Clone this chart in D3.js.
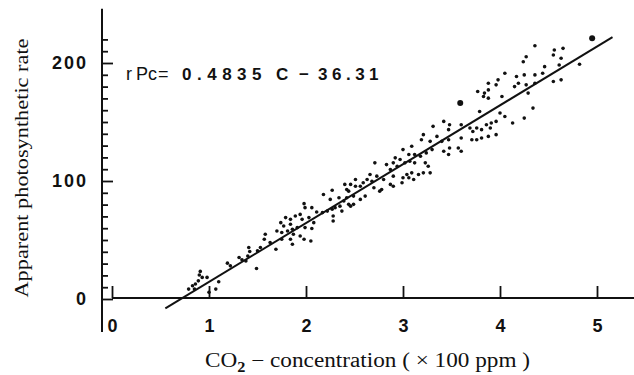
<!DOCTYPE html>
<meta charset="utf-8">
<style>
body { margin: 0; background: #fff; }
svg text { fill: #111; }
</style>
<body>
<script src="https://d3js.org/d3.v7.min.js"></script>
<script>

var width = 634,
    height = 375;

// scatter points (CO2 in 100 ppm, rate)
var co2 = [1.41,1.42,1.40,1.31,1.34,1.38,1.19,1.22,1.49,0.91,0.90,0.93,0.98,0.89,0.86,0.83,0.79,0.85,1.10,1.07,1.00,
  2.40,2.42,2.27,2.18,2.25,2.34,2.39,2.42,1.98,1.99,2.06,2.11,2.17,2.22,2.27,2.30,2.35,2.28,2.28,2.37,2.44,1.79,1.84,1.89,1.94,1.96,2.03,2.08,1.74,1.77,1.84,1.70,1.75,1.81,1.86,1.91,1.99,2.06,1.87,1.94,1.98,1.84,1.58,1.57,1.63,1.53,1.50,1.69,2.05,1.86,1.75,
  3.31,3.21,3.19,3.28,3.30,3.24,3.09,3.00,3.06,3.12,3.18,2.92,2.97,2.90,2.83,2.87,2.94,3.02,3.07,3.12,3.23,3.26,3.28,3.21,3.16,3.09,3.04,3.00,2.99,3.06,3.11,2.90,2.87,2.90,2.80,2.73,2.71,2.66,2.68,2.63,2.59,2.56,2.51,2.51,2.46,2.44,2.49,2.56,2.61,2.76,2.78,2.49,2.46,2.70,
  4.05,4.17,4.25,3.98,3.88,3.96,4.19,4.15,3.88,3.84,3.83,3.88,4.02,3.77,3.79,4.00,4.05,3.96,3.91,3.86,3.90,3.81,3.76,3.72,3.69,3.60,3.48,3.42,3.47,3.35,3.40,3.47,3.60,3.71,3.76,3.81,3.88,3.96,4.13,4.25,3.48,3.42,3.57,3.60,3.47,
  4.36,4.27,4.24,4.56,4.65,4.55,4.63,4.46,4.61,4.44,4.36,4.82,4.27,4.36,4.29,4.55,4.63,4.34];

var rate = [43.6,40.3,36.5,35.2,33.2,32.3,30.4,28.1,25.9,23.4,20.3,18.3,18.3,15.4,12.7,11.2,8.4,8.4,14.6,8.4,5.7,
  97.1,92.8,92.2,88.6,84.4,85.8,83.0,85.8,80.8,77.4,77.4,73.7,73.2,74.5,76.0,77.4,78.7,70.3,66.1,74.5,80.2,69.0,67.5,70.3,71.7,67.5,69.0,64.7,64.7,61.9,63.3,57.6,56.3,57.6,59.1,60.5,60.5,59.7,54.9,53.4,50.6,50.6,54.9,50.6,47.9,43.6,40.8,42.2,49.2,46.4,50.6,
  146.3,139.3,135.0,133.6,126.6,123.8,129.4,126.6,122.4,122.4,121.0,119.6,118.2,115.4,113.9,109.7,112.5,115.4,116.7,115.4,115.4,112.5,106.9,106.9,105.5,106.9,105.5,102.7,98.5,102.7,101.3,104.1,97.1,95.6,101.3,104.1,115.4,105.5,99.8,101.3,98.5,95.6,101.3,95.6,97.1,91.4,87.2,84.4,87.2,91.4,92.8,80.2,78.7,94.3,
  191.3,188.5,189.9,185.7,182.9,181.5,182.9,180.0,177.2,174.5,171.6,170.2,171.6,175.8,158.9,157.6,154.7,150.5,149.1,147.7,144.9,143.5,144.9,142.0,144.9,147.7,147.7,150.5,143.5,137.8,133.6,135.0,136.5,135.0,135.0,136.5,137.8,139.3,149.1,153.3,128.0,125.2,128.0,125.2,122.4,
  214.6,205.3,201.1,211.0,212.4,206.8,204.0,196.9,198.3,191.3,189.9,198.9,181.5,182.9,174.5,184.3,185.7,161.8];

// the two heavier dots
var bigCo2 = [3.59, 4.95];
var bigRate = [166, 221];

// fitted line end points as drawn
var fitCo2 = [0.55, 5.16];
var fitRate = [-8, 222];

var xTicks = [0, 1, 2, 3, 4, 5];
var yMajor = [0, 100, 200];
var yMinor = [10, 20, 30, 40, 50, 60, 70, 80, 90, 110, 120, 130, 140, 150, 160, 170, 180, 190, 210, 220];

var svg = d3.select("body").append("svg")
    .attr("width", width)
    .attr("height", height);

var x = d3.scaleLinear().domain([0, 5]).range([112, 597]);
var y = d3.scaleLinear().domain([0, 200]).range([299, 63]);
var axisX = 102;

// y axis line
svg.append("line")
    .attr("x1", axisX).attr("x2", axisX)
    .attr("y1", y(246)).attr("y2", y(-28))
    .attr("stroke", "#111").attr("stroke-width", 2);

// x axis line
svg.append("line")
    .attr("x1", x(0)).attr("x2", width)
    .attr("y1", y(0) - 1).attr("y2", y(0) - 1)
    .attr("stroke", "#111").attr("stroke-width", 2);

var minor = svg.append("g")
    .attr("transform", "translate(" + axisX + ",0)")
    .call(d3.axisLeft(y).tickValues(yMinor).tickSize(-6).tickFormat(""));
minor.select(".domain").remove();

var major = svg.append("g")
    .attr("transform", "translate(" + axisX + ",0)")
    .call(d3.axisLeft(y).tickValues(yMajor).tickSize(-11).tickPadding(14));
major.select(".domain").remove();
major.selectAll("text")
    .style("font-family", "'Liberation Sans', Arial, sans-serif")
    .style("font-weight", "bold")
    .style("font-size", "18px")
    .style("letter-spacing", "2px");

svg.selectAll(".tick line").attr("stroke", "#111").attr("stroke-width", 1.8);

var xAxis = svg.append("g")
    .attr("transform", "translate(0," + (y(0) - 1) + ")")
    .call(d3.axisBottom(x).tickValues(xTicks).tickSize(-12).tickPadding(21).tickFormat(d3.format("d")));
xAxis.select(".domain").remove();
xAxis.selectAll(".tick line").attr("stroke", "#111").attr("stroke-width", 1.8);
xAxis.selectAll("text")
    .style("font-family", "'Liberation Sans', Arial, sans-serif")
    .style("font-weight", "bold")
    .style("font-size", "18px");

// points
svg.append("g")
  .selectAll("circle")
  .data(co2)
  .enter().append("circle")
    .attr("cx", function(d) { return x(d); })
    .attr("cy", function(d, i) { return y(rate[i]); })
    .attr("r", 1.8)
    .attr("fill", "#111");

svg.append("g")
  .selectAll("circle")
  .data(bigCo2)
  .enter().append("circle")
    .attr("cx", function(d) { return x(d); })
    .attr("cy", function(d, i) { return y(bigRate[i]); })
    .attr("r", 3)
    .attr("fill", "#111");

// regression line
svg.append("line")
    .attr("x1", x(fitCo2[0])).attr("y1", y(fitRate[0]))
    .attr("x2", x(fitCo2[1])).attr("y2", y(fitRate[1]))
    .attr("stroke", "#111").attr("stroke-width", 2);

// equation
var eq = svg.append("text")
    .attr("y", 80)
    .style("font-family", "'Liberation Sans', Arial, sans-serif")
    .style("font-size", "18px");
eq.append("tspan").attr("x", 126).text("r");
eq.append("tspan").attr("x", 136).text("Pc");
eq.append("tspan").attr("x", 158).text("=");
eq.append("tspan").attr("x", 182).style("font-weight", "bold").style("font-size", "17px").style("letter-spacing", "5.5px").text("0.4835");
eq.append("tspan").attr("x", 276).style("font-weight", "bold").style("font-size", "17px").text("C");
eq.append("tspan").attr("x", 299).style("font-weight", "bold").style("font-size", "17px").text("\u2212");
eq.append("tspan").attr("x", 318).style("font-weight", "bold").style("font-size", "17px").style("letter-spacing", "4.5px").text("36.31");

// axis titles
svg.append("text")
    .attr("transform", "translate(28,168) rotate(-90)")
    .attr("text-anchor", "middle")
    .attr("textLength", 259)
    .attr("lengthAdjust", "spacingAndGlyphs")
    .style("font-family", "'Liberation Serif', 'Times New Roman', serif")
    .style("font-size", "19px")
    .text("Apparent photosynthetic rate");

var xt = svg.append("text")
    .attr("x", 205)
    .attr("y", 367)
    .attr("textLength", 325)
    .attr("lengthAdjust", "spacingAndGlyphs")
    .style("font-family", "'Liberation Serif', 'Times New Roman', serif")
    .style("font-size", "20px");
xt.append("tspan").text("CO");
xt.append("tspan").attr("dy", 5).style("font-size", "14px").style("font-weight", "bold").text("2");
xt.append("tspan").attr("dy", -5).text("  \u2212  concentration ( \u00d7 100 ppm )");

</script>
</body>
